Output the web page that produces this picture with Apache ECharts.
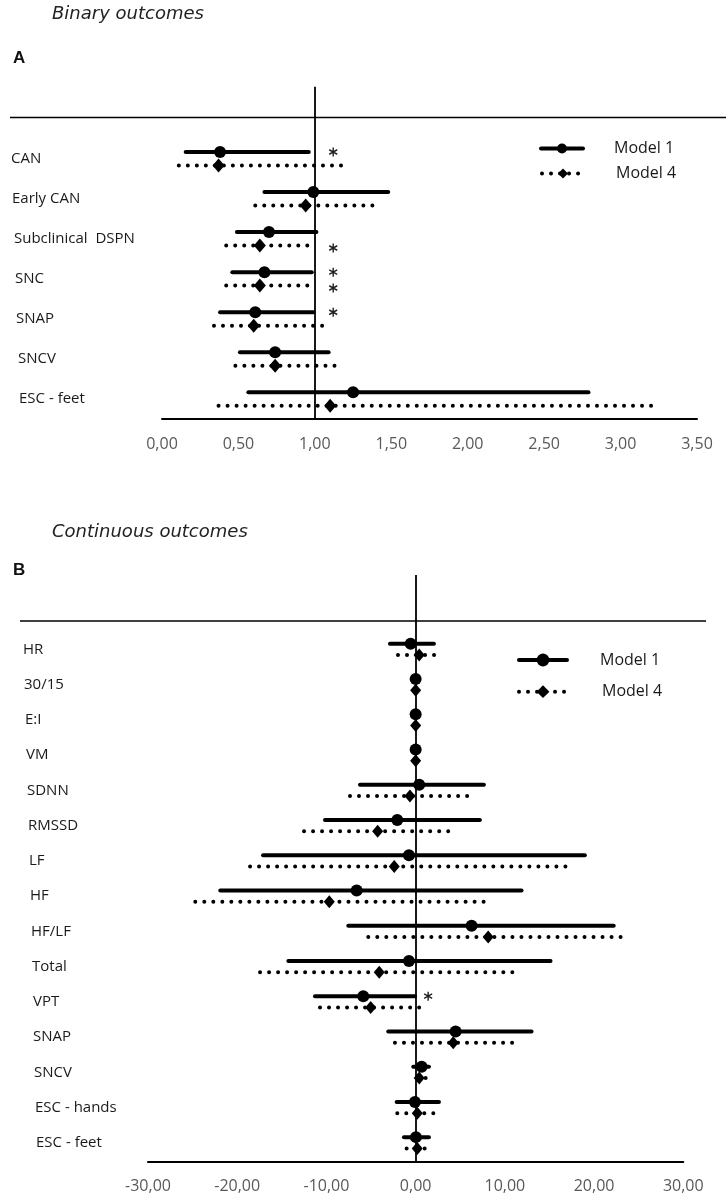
<!DOCTYPE html>
<html><head><meta charset="utf-8">
<script src="https://cdn.jsdelivr.net/npm/echarts@6/dist/echarts.min.js"></script>
<style>html,body{margin:0;padding:0;background:#fff}#c{width:726px;height:1199px}</style>
</head><body><div id="c"></div>
<script>
// ---- Panel A: binary outcomes ----
const catsA = ['CAN', 'Early CAN', 'Subclinical  DSPN', 'SNC', 'SNAP', 'SNCV', 'ESC - feet'];
const a1Est = [0.38, 0.99, 0.70, 0.67, 0.61, 0.74, 1.25];
const a1Lo  = [0.155, 0.67, 0.49, 0.46, 0.38, 0.51, 0.565];
const a1Hi  = [0.96, 1.48, 1.01, 0.98, 0.99, 1.09, 2.79];
const a4Est = [0.37, 0.94, 0.64, 0.64, 0.60, 0.74, 1.10];
const a4Lo  = [0.11, 0.61, 0.42, 0.42, 0.34, 0.48, 0.37];
const a4Hi  = [1.19, 1.39, 0.97, 0.97, 1.06, 1.14, 3.21];
const sigA1 = [1, 0, 0, 1, 1, 0, 0];
const sigA4 = [0, 0, 1, 1, 0, 0, 0];
const ticksA = [0, 0.5, 1, 1.5, 2, 2.5, 3, 3.5];

// ---- Panel B: continuous outcomes ----
const catsB = ['HR', '30/15', 'E:I', 'VM', 'SDNN', 'RMSSD', 'LF', 'HF', 'HF/LF', 'Total', 'VPT', 'SNAP', 'SNCV', 'ESC - hands', 'ESC - feet'];
const b1Est = [-0.56, 0, 0, 0, 0.40, -2.06, -0.75, -6.61, 6.27, -0.75, -5.87, 4.48, 0.67, -0.08, 0.03];
const b1Lo  = [-2.88, 0, 0, 0, -6.24, -10.16, -17.1, -21.9, -7.55, -14.27, -11.28, -3.07, -0.27, -2.13, -1.31];
const b1Hi  = [2.05, 0, 0, 0, 7.65, 7.20, 18.96, 11.87, 22.2, 15.12, -0.08, 12.99, 1.49, 2.61, 1.49];
const b4Est = [0.40, 0, 0, 0, -0.64, -4.26, -2.40, -9.68, 8.13, -4.08, -5.04, 4.21, 0.40, 0.18, 0.18];
const b4Lo  = [-1.98, 0, 0, 0, -7.36, -12.51, -18.56, -24.7, -5.31, -17.44, -10.72, -2.32, 0.11, -2.06, -1.01];
const b4Hi  = [2.39, 0, 0, 0, 6.16, 3.92, 16.98, 7.76, 23.18, 11.0, 0.67, 11.12, 1.23, 2.27, 1.30];
const sigB1 = [0, 0, 0, 0, 0, 0, 0, 0, 0, 0, 1, 0, 0, 0, 0];
const sigB4 = [0, 0, 0, 0, 0, 0, 0, 0, 0, 0, 0, 0, 0, 0, 0];
const ticksB = [-30, -20, -10, 0, 10, 20, 30];

const chart = echarts.init(document.getElementById('c'));
const LBL = 'Open Sans';
const DOT = [0.01, 9];

function segs(lo, hi, off) { return lo.map((v, i) => [v, hi[i], i + off]); }
function pts(est, off) { return est.map((v, i) => [v, i + off]); }
function stars(sig, off, x) { const r = []; sig.forEach((s, i) => { if (s) r.push([x, i + off]); }); return r; }
function segRender(dotted) {
  return function (params, api) {
    const a = api.coord([api.value(0), api.value(2)]);
    const b = api.coord([api.value(1), api.value(2)]);
    return { type: 'line', shape: { x1: a[0], y1: a[1], x2: b[0], y2: b[1] },
      style: { stroke: '#000', lineWidth: 4, lineDash: dotted ? DOT : null, lineCap: 'round' } };
  };
}
function richFor(cats, step) {
  const r = {};
  cats.forEach((c, i) => { r['r' + i] = { fontFamily: LBL, fontSize: 15, color: '#1a1a1a', padding: [0, 0, 0, Math.round(i * step)] }; });
  return r;
}
const fmtTick = v => v.toFixed(2).replace('.', ',');
const starSym = 'path://M5,0L5,10M0.67,2.5L9.33,7.5M0.67,7.5L9.33,2.5';

const offA = 0.168, offB = 0.162;

function xAxisCfg(grid, ticks) {
  return { gridIndex: grid, type: 'value', min: ticks[0], max: ticks[ticks.length - 1], interval: ticks[1] - ticks[0],
    axisLine: { show: true, onZero: false, lineStyle: { color: '#000', width: 2 } },
    axisTick: { show: false }, splitLine: { show: false },
    axisLabel: { formatter: fmtTick, color: '#595959', fontFamily: LBL, fontSize: 16, margin: 17 } };
}
function yAxisCfg(grid, cats, min, max, margin, step) {
  return { gridIndex: grid, type: 'value', inverse: true, min: min, max: max,
    axisLine: { show: false }, axisTick: { show: false }, splitLine: { show: false },
    axisLabel: { customValues: cats.map((c, i) => i), formatter: v => '{r' + v + '|' + cats[v] + '}',
      align: 'left', margin: margin, rich: richFor(cats, step), fontFamily: LBL, fontSize: 15, color: '#1a1a1a' } };
}
function legendCfg(name, left, top, w, h, pad) {
  return { data: [name], left: left, top: top, itemWidth: w, itemHeight: h, padding: 0, selectedMode: false,
    lineStyle: { width: 4 },
    textStyle: { fontFamily: LBL, fontSize: 16, color: '#1a1a1a', padding: pad } };
}
function panelSeries(xi, e1, l1, h1, e4, l4, h4, s1, s4, off, refX, starX, symA) {
  return [
    { type: 'custom', name: 'Model 1', xAxisIndex: xi, yAxisIndex: xi, renderItem: segRender(false), encode: { x: [0, 1], y: 2 }, data: segs(l1, h1, -off), z: 2,
      markLine: { silent: true, symbol: 'none', label: { show: false }, lineStyle: { color: '#000', width: 1.8, type: 'solid' }, data: [{ xAxis: refX }] } },
    { type: 'custom', name: 'Model 4', xAxisIndex: xi, yAxisIndex: xi, renderItem: segRender(true), encode: { x: [0, 1], y: 2 }, data: segs(l4, h4, off), z: 2 },
    { type: 'scatter', name: 'Model 1', xAxisIndex: xi, yAxisIndex: xi, symbol: 'circle', symbolSize: symA[0], itemStyle: { color: '#000', opacity: 1 }, data: pts(e1, -off), z: 4 },
    { type: 'scatter', name: 'Model 4', xAxisIndex: xi, yAxisIndex: xi, symbol: 'diamond', symbolSize: symA[1], itemStyle: { color: '#000', opacity: 1 }, data: pts(e4, off), z: 4 },
    { type: 'scatter', name: 'sig', xAxisIndex: xi, yAxisIndex: xi, symbol: starSym, symbolSize: [8, 9],
      itemStyle: { color: 'transparent', borderColor: '#222', borderWidth: 1.5, opacity: 1 }, data: stars(s1, -off, starX).concat(stars(s4, off + 0.06, starX)), z: 4 }
  ];
}

const option = {
  backgroundColor: '#fff',
  animation: false,
  title: [
    { text: 'Binary outcomes', left: 52, top: 5, padding: 0, textStyle: { fontFamily: 'DejaVu Sans', fontStyle: 'italic', fontWeight: 'normal', fontSize: 18, color: '#222' } },
    { text: 'A', left: 13, top: 50, padding: 0, textStyle: { fontFamily: 'Liberation Sans', fontWeight: 'bold', fontSize: 17, color: '#111' } },
    { text: 'Continuous outcomes', left: 52, top: 523, padding: 0, textStyle: { fontFamily: 'DejaVu Sans', fontStyle: 'italic', fontWeight: 'normal', fontSize: 18, color: '#222' } },
    { text: 'B', left: 13, top: 562, padding: 0, textStyle: { fontFamily: 'Liberation Sans', fontWeight: 'bold', fontSize: 17, color: '#111' } }
  ],
  legend: [
    legendCfg('Model 1', 539, 140.5, 42, 12.5, [12, 0, 0, 26]),
    legendCfg('Model 4', 540, 165.5, 42, 12.5, [7, 0, 0, 27]),
    legendCfg('Model 1', 517, 652, 48, 16, [2, 0, 0, 28]),
    legendCfg('Model 4', 517, 683.7, 48, 16, [0, 0, 4, 30])
  ],
  grid: [
    { left: 162, right: 29, top: 86.7, bottom: 780 },
    { left: 148, right: 42.7, top: 575, bottom: 37.3 }
  ],
  xAxis: [xAxisCfg(0, ticksA), xAxisCfg(1, ticksB)],
  yAxis: [
    yAxisCfg(0, catsA, -1.8, 6.5, 151, 1.3),
    yAxisCfg(1, catsB, -2.11, 14.535, 125, 0.95)
  ],
  graphic: [
    { type: 'line', shape: { x1: 10, y1: 117.5, x2: 726, y2: 117.5 }, style: { stroke: '#000', lineWidth: 1.5 }, silent: true },
    { type: 'line', shape: { x1: 20, y1: 621, x2: 706, y2: 621 }, style: { stroke: '#000', lineWidth: 1.5 }, silent: true }
  ],
  series: [
    { type: 'line', name: 'Model 1', xAxisIndex: 0, yAxisIndex: 0, data: [], symbol: 'circle', itemStyle: { color: '#000' }, lineStyle: { color: '#000', width: 4, cap: 'round' } },
    { type: 'line', name: 'Model 4', xAxisIndex: 0, yAxisIndex: 0, data: [], symbol: 'diamond', itemStyle: { color: '#000' }, lineStyle: { color: '#000', width: 4, type: DOT, cap: 'round' } }
  ].concat(
    panelSeries(0, a1Est, a1Lo, a1Hi, a4Est, a4Lo, a4Hi, sigA1, sigA4, offA, 1, 1.12, [12, [12, 14]]),
    panelSeries(1, b1Est, b1Lo, b1Hi, b4Est, b4Lo, b4Hi, sigB1, sigB4, offB, 0, 1.4, [12, [11, 13]])
  )
};
chart.setOption(option);
</script>
</body></html>
